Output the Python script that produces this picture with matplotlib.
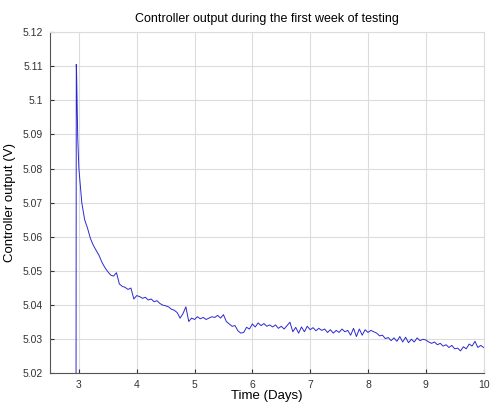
import numpy as np
import matplotlib
matplotlib.use('Agg')
import matplotlib.pyplot as plt

plt.rcParams['font.family'] = ['Liberation Sans', 'DejaVu Sans']

# start-up transient (days, volts)
spike_days = [2.950, 2.955, 2.960, 2.970, 2.980, 3.00, 3.05, 3.10]
spike_vals = [5.000, 5.1105, 5.108, 5.098, 5.089, 5.080, 5.070, 5.0650]

# readings every 0.05 day from day 3.15 on
day_start = 3.15
day_step = 0.05
output_vals = [
    5.0625, 5.0595, 5.0575, 5.0560, 5.0545, 5.0525, 5.0510, 5.0498, 5.0488, 5.0485,
    5.0495, 5.0462, 5.0455, 5.0452, 5.0446, 5.0450, 5.0418, 5.0428, 5.0425, 5.0420,
    5.0423, 5.0415, 5.0418, 5.0410, 5.0413, 5.0405, 5.0400, 5.0398, 5.0395, 5.0388,
    5.0385, 5.0378, 5.0362, 5.0375, 5.0395, 5.0352, 5.0362, 5.0358, 5.0366, 5.0360,
    5.0364, 5.0358, 5.0362, 5.0366, 5.0364, 5.0370, 5.0362, 5.0372, 5.0352, 5.0345,
    5.0338, 5.0340, 5.0325, 5.0318, 5.0320, 5.0335, 5.0330, 5.0345, 5.0336, 5.0348,
    5.0340, 5.0346, 5.0338, 5.0342, 5.0336, 5.0342, 5.0332, 5.0338, 5.0330, 5.0340,
    5.0350, 5.0322, 5.0335, 5.0318, 5.0336, 5.0322, 5.0338, 5.0328, 5.0334, 5.0325,
    5.0332, 5.0326, 5.0330, 5.0320, 5.0328, 5.0318, 5.0326, 5.0320, 5.0330, 5.0322,
    5.0326, 5.0312, 5.0332, 5.0308, 5.0330, 5.0312, 5.0328, 5.0320, 5.0326, 5.0322,
    5.0318, 5.0310, 5.0312, 5.0302, 5.0305, 5.0296, 5.0304, 5.0294, 5.0308, 5.0292,
    5.0306, 5.0290, 5.0300, 5.0292, 5.0304, 5.0296, 5.0300, 5.0298, 5.0292, 5.0288,
    5.0292, 5.0284, 5.0288, 5.0280, 5.0284, 5.0276, 5.0282, 5.0272, 5.0274, 5.0266,
    5.0278, 5.0272, 5.0286, 5.0280, 5.0294, 5.0276, 5.0282, 5.0276,
]

x_ticks = [3, 4, 5, 6, 7, 8, 9, 10]
y_ticks = [5.02, 5.03, 5.04, 5.05, 5.06, 5.07, 5.08, 5.09, 5.1, 5.11, 5.12]
y_tick_labels = ['5.02', '5.03', '5.04', '5.05', '5.06', '5.07', '5.08', '5.09', '5.1', '5.11', '5.12']

days = np.concatenate([spike_days, day_start + day_step * np.arange(len(output_vals))])
vals = np.concatenate([spike_vals, output_vals])

fig = plt.figure(figsize=(4.9, 4.05), dpi=100)
ax = fig.add_axes([0.102, 0.078, 0.885, 0.843])

ax.plot(days, vals, color='#2a2ad0', linewidth=0.7)

ax.set_xlim(2.5, 10)
ax.set_ylim(5.02, 5.12)
ax.set_xticks(x_ticks)
ax.set_yticks(y_ticks)
ax.set_yticklabels(y_tick_labels)
ax.grid(True, color='#dcdcdc', linewidth=0.8)
ax.set_axisbelow(True)

ax.tick_params(direction='in', length=3, labelsize=7.5, colors='#333333', pad=5)
for side in ['left', 'bottom']:
    ax.spines[side].set_color('#555555')
    ax.spines[side].set_linewidth(0.8)
for side in ['top', 'right']:
    ax.spines[side].set_color('#dcdcdc')

ax.set_title('Controller output during the first week of testing', fontsize=9, pad=7)
ax.set_xlabel('Time (Days)', fontsize=9.5, labelpad=0)
ax.set_ylabel('Controller output (V)', fontsize=9.5, labelpad=5)

plt.savefig('out.png', dpi=100)
